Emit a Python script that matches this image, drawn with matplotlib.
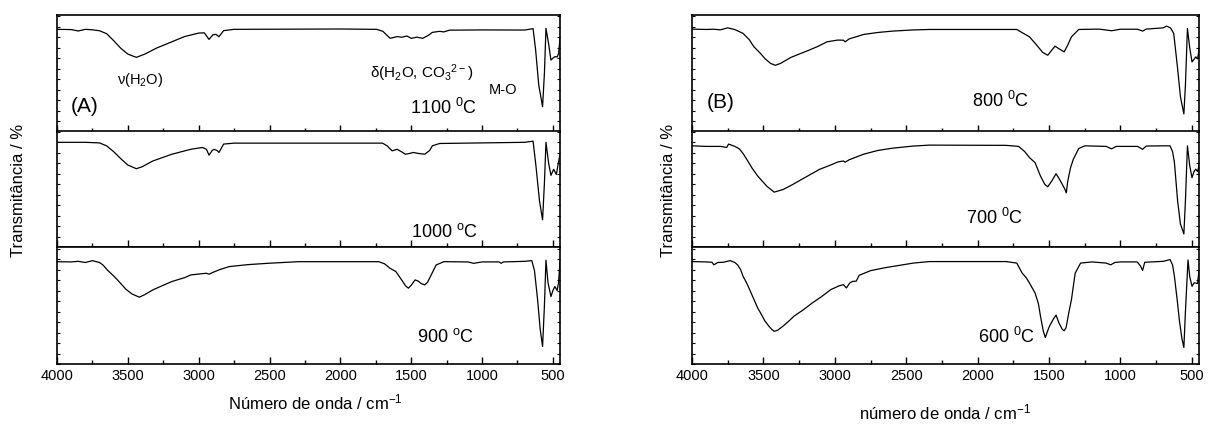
import numpy as np
import matplotlib
matplotlib.use("Agg")
from matplotlib import pyplot as plt
from matplotlib.ticker import MultipleLocator

plt.rcParams['font.family'] = ['Liberation Sans', 'DejaVu Sans']
plt.rcParams['mathtext.default'] = 'regular'

# espectros FTIR (transmitancia relativa, 0-100 = altura do painel)
wn_1100 = [4000, 3900, 3850, 3800, 3750, 3700, 3650, 3600, 3550, 3500, 3440, 3380, 3300, 3200,
           3100, 3000, 2960, 2927, 2900, 2878, 2857, 2824, 2750, 2000, 1743, 1700, 1649, 1600,
           1568, 1530, 1500, 1460, 1419, 1380, 1351, 1300, 1270, 1230, 1000, 700, 640, 622,
           600, 573, 560, 549, 530, 514, 500, 486, 470, 460, 450]
t_1100 = [87.7, 87.5, 86.3, 87.7, 87.3, 86.5, 84, 78, 71.5, 66.5, 63.7, 66.5, 71.5, 76.5,
          81.5, 84.5, 84.7, 79.1, 83, 83.4, 81.4, 86.6, 87.7, 88, 87.7, 86, 80, 81.5,
          80.9, 82, 80, 81, 80, 82.5, 85.1, 86, 85.5, 87, 87.2, 87.1, 88.3, 70,
          40, 21.4, 50, 88.6, 75, 61.4, 63, 64.3, 64, 67, 80]

wn_1000 = [4000, 3800, 3700, 3650, 3600, 3550, 3500, 3440, 3400, 3324, 3189, 3054, 2973, 2945,
           2927, 2905, 2892, 2870, 2857, 2824, 2750, 1703, 1670, 1635, 1600, 1570, 1541, 1510,
           1486, 1450, 1405, 1370, 1351, 1300, 1000, 700, 640, 620, 595, 573, 560, 549,
           530, 514, 495, 476, 462, 450]
t_1000 = [90, 90, 89.5, 87, 82, 76, 70.5, 67.4, 69, 74, 79.8, 84.1, 85.6, 84,
          79, 83, 84, 83, 81.3, 88.5, 89.3, 89.3, 87, 82.7, 84, 82, 79.8, 80.5,
          81.3, 80.5, 79.8, 83, 87, 89, 89.5, 90, 91, 70, 40, 23.6, 55, 90,
          72, 61.7, 66.9, 62.5, 72, 80]

wn_900 = [4000, 3900, 3850, 3800, 3750, 3700, 3676, 3640, 3595, 3550, 3514, 3470, 3419, 3380,
          3324, 3250, 3189, 3100, 3054, 2946, 2927, 2900, 2850, 2784, 2650, 2514, 2297, 1730,
          1690, 1649, 1608, 1568, 1540, 1520, 1500, 1473, 1450, 1430, 1405, 1385, 1365, 1324,
          1270, 1100, 1060, 1000, 880, 865, 850, 700, 649, 630, 608, 590, 573, 560,
          549, 535, 514, 500, 486, 470, 460, 450]
t_900 = [87.7, 87.5, 88, 87, 88.6, 87, 84.9, 80, 74.9, 69, 64.1, 60, 57.3, 59.5,
         63.5, 67.5, 70.7, 74, 76.4, 77.8, 77, 78.5, 81, 83.5, 85.2, 86.3, 87.7, 87.7,
         86, 82, 79.2, 72.1, 67, 65, 67.5, 72.1, 71, 69, 67.8, 70, 74.9, 84.9,
         87.7, 87.5, 86.3, 87.5, 87.5, 86.3, 87.5, 88, 88.6, 80, 55, 30, 15.1, 50,
         89, 70, 57.8, 63, 66.4, 63, 70, 88]

wn_800 = [4000, 3900, 3850, 3800, 3750, 3700, 3642, 3600, 3566, 3520, 3489, 3450, 3417, 3380,
          3310, 3250, 3182, 3120, 3055, 2980, 2940, 2927, 2900, 2799, 2700, 2595, 2450, 2339,
          1726, 1690, 1637, 1586, 1545, 1509, 1480, 1458, 1430, 1394, 1370, 1343, 1292, 1150,
          1062, 1000, 880, 845, 820, 700, 678, 650, 627, 601, 580, 556, 545, 531,
          515, 499, 485, 473, 460, 450]
t_800 = [87.9, 87.6, 87.8, 87.3, 89, 87.5, 84.2, 79, 72.7, 67, 62.6, 58.5, 56.9, 58.5,
         63.5, 66.5, 69.8, 73, 77, 78.5, 78.4, 77, 79.5, 83.3, 85, 86.2, 87.2, 87.6,
         87.6, 85, 81.3, 74.1, 68, 65.5, 70, 73.3, 71, 68.4, 74, 81.3, 87.6, 87.9,
         86.5, 87.8, 87.8, 86.2, 87.9, 89, 90.5, 89, 84.2, 55.5, 30, 15.2, 40, 88.5,
         72, 59.8, 62, 64.1, 62.5, 70]

wn_700 = [4000, 3900, 3800, 3757, 3744, 3700, 3668, 3640, 3617, 3580, 3540, 3476, 3425, 3361,
          3300, 3233, 3170, 3106, 3040, 2978, 2940, 2927, 2900, 2799, 2700, 2595, 2450, 2339,
          1800, 1713, 1670, 1637, 1598, 1560, 1530, 1509, 1480, 1451, 1430, 1407, 1390, 1379,
          1370, 1350, 1330, 1292, 1250, 1100, 1062, 1030, 880, 845, 820, 700, 653, 635,
          622, 600, 580, 556, 545, 531, 515, 499, 485, 473, 460, 450]
t_700 = [87, 86.5, 86.5, 85.6, 88.5, 86.5, 84.4, 80, 75.5, 68, 61.1, 52.4, 47.3, 49.6,
         53.5, 58.2, 62.5, 66.9, 70, 73.2, 74, 73, 75, 79.8, 83, 85, 86.8, 87.6,
         87.4, 86.5, 82, 76.9, 72.6, 61.1, 54, 51.9, 57, 63.1, 59, 53.9, 50, 46.7,
         56, 68, 75.5, 84.7, 87, 86.5, 84.4, 86.5, 86.5, 84, 86.8, 87, 87, 82,
         72.6, 40, 20, 11.5, 40, 87, 70, 59.7, 65, 67, 65, 70]

wn_600 = [4000, 3900, 3860, 3847, 3820, 3780, 3732, 3700, 3681, 3660, 3642, 3617, 3590, 3566,
          3540, 3514, 3490, 3463, 3440, 3425, 3400, 3361, 3320, 3285, 3220, 3157, 3090, 3029,
          2970, 2940, 2919, 2895, 2876, 2850, 2830, 2750, 2650, 2595, 2450, 2339, 1800, 1726,
          1688, 1660, 1637, 1598, 1575, 1560, 1540, 1526, 1505, 1496, 1470, 1451, 1430, 1407,
          1395, 1381, 1360, 1343, 1317, 1279, 1200, 1100, 1068, 1040, 1000, 883, 860, 845,
          830, 700, 653, 635, 622, 600, 588, 570, 556, 545, 527, 515, 499, 485,
          473, 460, 450]
t_600 = [87.8, 87.5, 87.2, 85, 87, 87.2, 88.6, 87, 85, 81, 75, 69.4, 62, 55.2,
         48, 42.5, 37, 32.6, 29.5, 28, 29, 32.6, 37, 41.1, 46.5, 52.4, 58, 63.7,
         67, 68, 65.2, 69.5, 70.8, 71, 76, 80, 82.5, 83.6, 86.5, 87.8, 87.8, 86.5,
         77.9, 74, 69.4, 60.9, 52, 41.1, 28, 22.7, 30, 32.6, 38.5, 41.9, 35, 29.7,
         28.5, 31, 45, 55.2, 77.9, 86.5, 87.5, 86.5, 85, 87, 87.5, 87.5, 84, 80.2,
         87.2, 88, 89.5, 85, 75, 52, 38, 22, 14.2, 45, 89.2, 75, 66.6, 69.5,
         69.4, 69, 80]

temps_A = ['1100 $^{0}$C', '1000 $^{o}$C', '900 $^{o}$C']
temps_B = ['800 $^{0}$C', '700 $^{0}$C', '600 $^{0}$C']

fig = plt.figure(figsize=(12.08, 4.26), dpi=100)

rows = [0.6909, 0.4194, 0.1455]
h = 0.2739

def make_ax(left, width, bottom, last):
    ax = fig.add_axes([left, bottom, width, h])
    ax.set_xlim(4000, 450)
    ax.set_ylim(0, 100)
    ax.xaxis.set_major_locator(MultipleLocator(500))
    ax.xaxis.set_minor_locator(MultipleLocator(250))
    ax.yaxis.set_major_locator(MultipleLocator(9))
    ax.tick_params(axis='x', which='major', direction='in', length=5, width=1, labelsize=10.5)
    ax.tick_params(axis='x', which='minor', direction='in', length=3, width=1)
    ax.tick_params(axis='y', direction='in', length=2, width=0.8, left=True, right=True,
                   labelleft=False)
    if not last:
        ax.tick_params(axis='x', labelbottom=False)
    for s in ax.spines.values():
        s.set_linewidth(1.2)
    return ax

# painel A
xa, wa = 57 / 1208, 503 / 1208
a1 = make_ax(xa, wa, rows[0], False)
a1.plot(wn_1100, t_1100, color='black', lw=0.9)
a2 = make_ax(xa, wa, rows[1], False)
a2.plot(wn_1000, t_1000, color='black', lw=0.9)
a3 = make_ax(xa, wa, rows[2], True)
a3.plot(wn_900, t_900, color='black', lw=0.9)

a1.text(3416, 44, 'ν(H$_2$O)', fontsize=10.5, ha='center', va='center')
a1.text(1426, 50, 'δ(H$_2$O, CO$_3$$^{2-}$)', fontsize=11, ha='center', va='center')
a1.text(850, 36, 'M-O', fontsize=10.5, ha='center', va='center')
a1.text(3804, 22, '(A)', fontsize=15, ha='center', va='center')
a1.text(1274, 20, temps_A[0], fontsize=13, ha='center', va='center')
a2.text(1265, 13, temps_A[1], fontsize=13, ha='center', va='center')
a3.text(1257, 23, temps_A[2], fontsize=13, ha='center', va='center')

# painel B
xb, wb = 692 / 1208, 507 / 1208
b1 = make_ax(xb, wb, rows[0], False)
b1.plot(wn_800, t_800, color='black', lw=0.9)
b2 = make_ax(xb, wb, rows[1], False)
b2.plot(wn_700, t_700, color='black', lw=0.9)
b3 = make_ax(xb, wb, rows[2], True)
b3.plot(wn_600, t_600, color='black', lw=0.9)

b1.text(3796, 25, '(B)', fontsize=15, ha='center', va='center')
b1.text(1840, 26, temps_B[0], fontsize=13, ha='center', va='center')
b2.text(1880, 25, temps_B[1], fontsize=13, ha='center', va='center')
b3.text(1800, 23, temps_B[2], fontsize=13, ha='center', va='center')

fig.text(19 / 1208, 0.554, 'Transmitância / %', rotation=90, fontsize=12, ha='center', va='center')
fig.text(668 / 1208, 0.554, 'Transmitância / %', rotation=90, fontsize=12, ha='center', va='center')
fig.text(315 / 1208, 0.056, 'Número de onda / cm$^{-1}$', fontsize=12, ha='center', va='center')
fig.text(945 / 1208, 0.031, 'número de onda / cm$^{-1}$', fontsize=12, ha='center', va='center')

fig.savefig('out.png', dpi=100)
